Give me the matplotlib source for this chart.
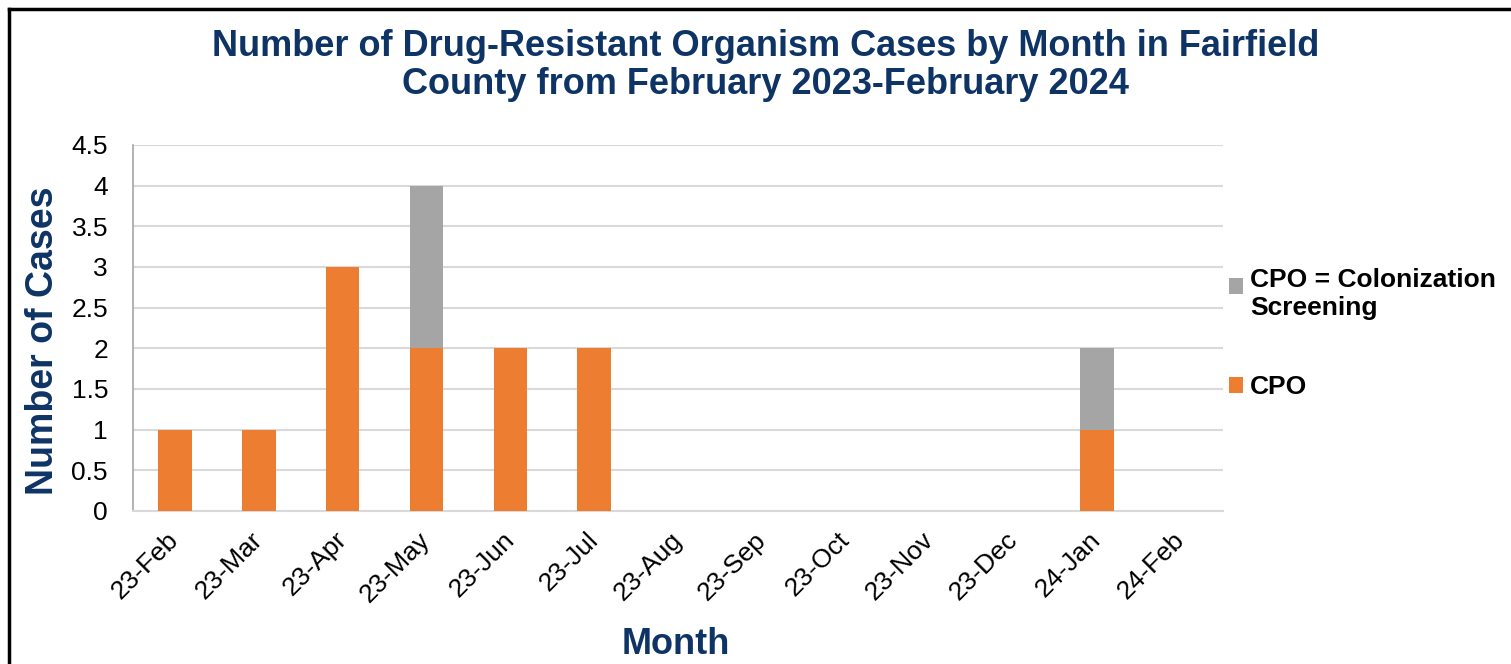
import matplotlib
matplotlib.use("Agg")
import matplotlib.pyplot as plt
from matplotlib.lines import Line2D
from matplotlib.patches import Patch, Rectangle
from matplotlib.legend_handler import HandlerPatch
import numpy as np

months = ["23-Feb", "23-Mar", "23-Apr", "23-May", "23-Jun", "23-Jul", "23-Aug",
          "23-Sep", "23-Oct", "23-Nov", "23-Dec", "24-Jan", "24-Feb"]
cpo = [1, 1, 3, 2, 2, 2, 0, 0, 0, 0, 0, 1, 0]
cpo_colonization = [0, 0, 0, 2, 0, 0, 0, 0, 0, 0, 0, 1, 0]
yticks = [0, 0.5, 1, 1.5, 2, 2.5, 3, 3.5, 4, 4.5]
ytick_labels = ["0", "0.5", "1", "1.5", "2", "2.5", "3", "3.5", "4", "4.5"]

title = "Number of Drug-Resistant Organism Cases by Month in Fairfield\nCounty from February 2023-February 2024"
label_cpo = "CPO"
label_col = "CPO = Colonization\nScreening"

ORANGE = "#ED7D31"
GRAY = "#A5A5A5"
NAVY = "#0E3466"

plt.rcParams['font.family'] = ['Liberation Sans', 'DejaVu Sans']

W, H = 1511, 664
fig = plt.figure(figsize=(W / 100, H / 100), dpi=100)
fig.patch.set_facecolor("white")

# outer frame (left & top)
fig.add_artist(Line2D([9 / W, 9 / W], [0, 1 - 9 / H], color="black", lw=2.5, transform=fig.transFigure))
fig.add_artist(Line2D([9 / W, 1], [1 - 9 / H, 1 - 9 / H], color="black", lw=2.5, transform=fig.transFigure))

ax = fig.add_axes([133 / W, 1 - 511 / H, (1223 - 133) / W, (511 - 145) / H])
x = np.arange(len(months))
bw = 0.4
ax.bar(x, cpo, width=bw, color=ORANGE, zorder=3, label=label_cpo)
ax.bar(x, cpo_colonization, width=bw, bottom=cpo, color=GRAY, zorder=3, label=label_col)

ax.set_xlim(-0.5, len(months) - 0.5)
ax.set_ylim(0, 4.5)
ax.set_yticks(yticks)
ax.set_yticklabels(ytick_labels, fontsize=19)
ax.set_xticks(x)
ax.set_xticklabels(months, fontsize=19, rotation=45, ha="right", va="center", rotation_mode="anchor")
ax.tick_params(axis="both", length=0)
ax.tick_params(axis="x", pad=18)
ax.tick_params(axis="y", pad=18)
ax.yaxis.grid(True, color="#D9D9D9", lw=1.5, zorder=0)
ax.set_axisbelow(True)
for s in ["top", "right"]:
    ax.spines[s].set_visible(False)
ax.spines["left"].set_color("#A6A6A6")
ax.spines["left"].set_linewidth(1.2)
ax.spines["bottom"].set_color("#D9D9D9")
ax.spines["bottom"].set_linewidth(1.5)

fig.text(43 / W, 1 - 341 / H, "Number of Cases", fontsize=27, fontweight="bold", color=NAVY,
         ha="center", va="center", rotation=90)
fig.text(676 / W, 1 - 645 / H, "Month", fontsize=26, fontweight="bold", color=NAVY, ha="center", va="center")
fig.text(766 / W, 1 - 29 / H, title, fontsize=26, fontweight="bold", color=NAVY,
         ha="center", va="top", linespacing=1.12)


def top_square(legend, orig_handle, xdescent, ydescent, width, height, fontsize):
    return Rectangle((-xdescent, -ydescent + 0.3 * fontsize), width, height)


def plain_square(legend, orig_handle, xdescent, ydescent, width, height, fontsize):
    return Rectangle((-xdescent, -ydescent), width, height)


h_col = Patch(facecolor=GRAY, label=label_col)
h_cpo = Patch(facecolor=ORANGE, label=label_cpo)
leg = fig.legend(handles=[h_col, h_cpo], loc="upper left", bbox_to_anchor=(1229 / W, 1 - 268 / H),
                 frameon=False, prop={"size": 19, "weight": "bold"}, handlelength=0.53,
                 handleheight=0.53, handletextpad=0.27, labelspacing=2.1, borderaxespad=0,
                 borderpad=0,
                 handler_map={h_col: HandlerPatch(patch_func=top_square),
                              h_cpo: HandlerPatch(patch_func=plain_square)})

fig.savefig("out.png", dpi=100, facecolor="white")
